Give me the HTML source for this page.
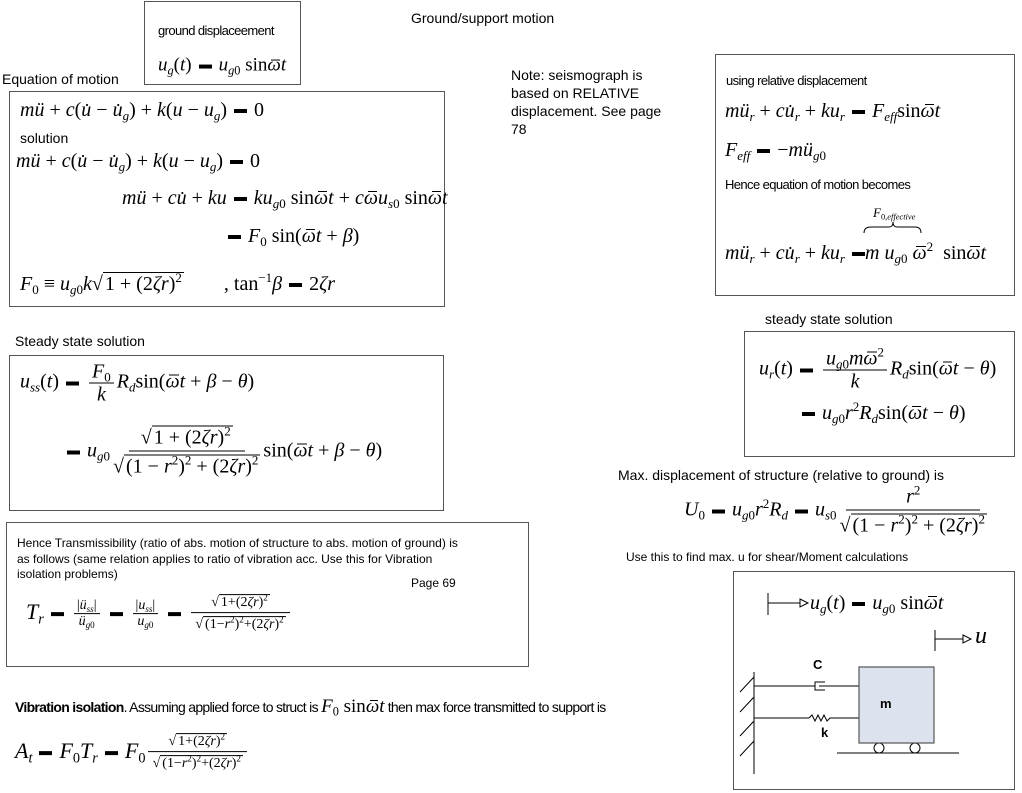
<!DOCTYPE html>
<html><head><meta charset="utf-8"><style>
body{margin:0;width:1022px;height:793px;background:#fff;position:relative;overflow:hidden;font-family:"Liberation Sans",sans-serif;color:#000}
.t{position:absolute;white-space:nowrap;font-size:14px}
.b{position:absolute;border:1.5px solid #555;box-sizing:border-box}
.m{position:absolute;white-space:nowrap;font:20px "Liberation Serif",serif;transform:translateY(-50%);line-height:1.1}
i{font-style:italic}
sub{font-size:0.65em;vertical-align:-0.3em;line-height:0}
sup{font-size:0.65em;vertical-align:0.6em;line-height:0}
.e{display:inline-block;width:13px;height:4px;background:#000;margin:0 7px;vertical-align:middle}
.fr{display:inline-flex;flex-direction:column;align-items:center;margin:0 3px;vertical-align:middle}
.fr>span{display:block;white-space:nowrap}
.fr>span:first-child{border-bottom:1px solid #000;padding:0 3px}
.sq{border-top:1px solid #000;padding:0 2px}
.w{display:inline-block;position:relative;font-style:italic}
.w::before{content:"";position:absolute;left:0.2em;right:0.05em;top:0.22em;border-top:1.5px solid #000}
</style></head><body>

<div class="t" style="left:411px;top:10px">Ground/support motion</div>
<div class="b" style="left:144px;top:1px;width:157px;height:84px"></div>
<div class="t" style="left:158px;top:23px;font-size:13px;letter-spacing:-0.6px">ground displaceement</div>
<div class="m" style="left:158px;top:66px;font-size:19px"><i>u</i><sub><i>g</i></sub>(<i>t</i>)<span class="e"></span><i>u</i><sub><i>g</i>0</sub>&nbsp;sin<i class="w">ω</i><i>t</i></div>

<div class="t" style="left:2px;top:71px">Equation of motion</div>
<div class="b" style="left:9px;top:91px;width:436px;height:216px"></div>
<div class="m" style="left:20px;top:110px"><i>mü</i>&nbsp;+&nbsp;<i>c</i>(<i>u̇</i>&nbsp;−&nbsp;<i>u̇</i><sub><i>g</i></sub>)&nbsp;+&nbsp;<i>k</i>(<i>u</i>&nbsp;−&nbsp;<i>u</i><sub><i>g</i></sub>)<span class="e"></span>0</div>
<div class="t" style="left:20px;top:130px">solution</div>
<div class="m" style="left:16px;top:161px"><i>mü</i>&nbsp;+&nbsp;<i>c</i>(<i>u̇</i>&nbsp;−&nbsp;<i>u̇</i><sub><i>g</i></sub>)&nbsp;+&nbsp;<i>k</i>(<i>u</i>&nbsp;−&nbsp;<i>u</i><sub><i>g</i></sub>)<span class="e"></span>0</div>
<div class="m" style="left:122px;top:198px"><i>mü</i>&nbsp;+&nbsp;<i>cu̇</i>&nbsp;+&nbsp;<i>ku</i><span class="e"></span><i>ku</i><sub><i>g</i>0</sub>&nbsp;sin<i class="w">ω</i><i>t</i>&nbsp;+&nbsp;<i>c</i><i class="w">ω</i><i>u</i><sub><i>s</i>0</sub>&nbsp;sin<i class="w">ω</i><i>t</i></div>
<div class="m" style="left:221px;top:236px"><span class="e"></span><i>F</i><sub>0</sub>&nbsp;sin(<i class="w">ω</i><i>t</i>&nbsp;+&nbsp;<i>β</i>)</div>
<div class="m" style="left:20px;top:284px"><i>F</i><sub>0</sub>&nbsp;≡&nbsp;<i>u</i><sub><i>g</i>0</sub><i>k</i>√<span class="sq">1&nbsp;+&nbsp;(2<i>ζr</i>)<sup>2</sup></span><span style="width:40px;display:inline-block"></span>,&nbsp;tan<sup>−1</sup><i>β</i><span class="e"></span>2<i>ζr</i></div>

<div class="t" style="left:15px;top:333px">Steady state solution</div>
<div class="b" style="left:9px;top:355px;width:435px;height:156px"></div>
<div class="m" style="left:20px;top:383px"><i>u</i><sub><i>ss</i></sub>(<i>t</i>)<span class="e"></span><span class="fr"><span><i>F</i><sub>0</sub></span><span><i>k</i></span></span><i>R</i><sub><i>d</i></sub>sin(<i class="w">ω</i><i>t</i>&nbsp;+&nbsp;<i>β</i>&nbsp;−&nbsp;<i>θ</i>)</div>
<div class="m" style="left:60px;top:452px"><span class="e"></span><i>u</i><sub><i>g</i>0</sub><span class="fr"><span style="padding:0 12px 2px">√<span class="sq">1&nbsp;+&nbsp;(2<i>ζr</i>)<sup>2</sup></span></span><span style="padding-top:4px">√<span class="sq">(1&nbsp;−&nbsp;<i>r</i><sup>2</sup>)<sup>2</sup>&nbsp;+&nbsp;(2<i>ζr</i>)<sup>2</sup></span></span></span>sin(<i class="w">ω</i><i>t</i>&nbsp;+&nbsp;<i>β</i>&nbsp;−&nbsp;<i>θ</i>)</div>

<div class="b" style="left:6px;top:522px;width:523px;height:145px"></div>
<div class="t" style="left:17px;top:536px;font-size:12px;line-height:15.5px">Hence Transmissibility (ratio of abs. motion of structure to abs. motion of ground) is<br>as follows (same relation applies to ratio of vibration acc. Use this for Vibration<br>isolation problems)</div>
<div class="t" style="left:411px;top:576px;font-size:12px">Page 69</div>
<div class="m" style="left:26px;top:614px;font-size:22px"><i>T</i><sub><i>r</i></sub><span class="e"></span><span class="fr" style="font-size:14px"><span>|<i>ü</i><sub><i>ss</i></sub>|</span><span><i>ü</i><sub><i>g</i>0</sub></span></span><span class="e"></span><span class="fr" style="font-size:14px"><span>|<i>u</i><sub><i>ss</i></sub>|</span><span><i>u</i><sub><i>g</i>0</sub></span></span><span class="e"></span><span class="fr" style="font-size:14px"><span style="padding:0 20px 2px">√<span class="sq">1+(2<i>ζr</i>)<sup>2</sup></span></span><span style="padding-top:4px">√<span class="sq">(1−<i>r</i><sup>2</sup>)<sup>2</sup>+(2<i>ζr</i>)<sup>2</sup></span></span></span></div>

<div class="t" style="left:15px;top:696px;font-size:14px;letter-spacing:-0.7px"><b>Vibration isolation</b>. Assuming applied force to struct is <span style="font:19px 'Liberation Serif',serif;letter-spacing:0"><i>F</i><sub>0</sub> sin<i class="w">ω</i><i>t</i></span> then max force transmitted to support is</div>
<div class="m" style="left:15px;top:753px;font-size:22px"><i>A</i><sub><i>t</i></sub><span class="e"></span><i>F</i><sub>0</sub><i>T</i><sub><i>r</i></sub><span class="e"></span><i>F</i><sub>0</sub><span class="fr" style="font-size:14px"><span style="padding:0 20px 2px">√<span class="sq">1+(2<i>ζr</i>)<sup>2</sup></span></span><span style="padding-top:4px">√<span class="sq">(1−<i>r</i><sup>2</sup>)<sup>2</sup>+(2<i>ζr</i>)<sup>2</sup></span></span></span></div>

<div class="t" style="left:511px;top:66px;line-height:18px">Note: seismograph is<br>based on RELATIVE<br>displacement. See page<br>78</div>

<div class="b" style="left:715px;top:54px;width:300px;height:242px"></div>
<div class="t" style="left:726px;top:73px;font-size:13px;letter-spacing:-0.6px">using relative displacement</div>
<div class="m" style="left:725px;top:111px"><i>mü</i><sub><i>r</i></sub>&nbsp;+&nbsp;<i>cu̇</i><sub><i>r</i></sub>&nbsp;+&nbsp;<i>ku</i><sub><i>r</i></sub><span class="e"></span><i>F</i><sub><i>eff</i></sub>sin<i class="w">ω</i><i>t</i></div>
<div class="m" style="left:725px;top:150px"><i>F</i><sub><i>eff</i></sub><span class="e"></span>−<i>mü</i><sub><i>g</i>0</sub></div>
<div class="t" style="left:725px;top:177px;font-size:13px;letter-spacing:-0.6px">Hence equation of motion becomes</div>
<div class="m" style="left:873px;top:213px;font-size:13px"><i>F</i><sub>0,<i>effective</i></sub></div>
<svg style="position:absolute;left:863px;top:222px" width="60" height="12"><path d="M1,11 Q1,5 8,5 L26,5 Q30,5 30,0 Q30,5 34,5 L52,5 Q58,5 58,11" fill="none" stroke="#000" stroke-width="1"/></svg>
<div class="m" style="left:725px;top:253px"><i>mü</i><sub><i>r</i></sub>&nbsp;+&nbsp;<i>cu̇</i><sub><i>r</i></sub>&nbsp;+&nbsp;<i>ku</i><sub><i>r</i></sub><span class="e" style="margin-right:0"></span><i>m</i>&nbsp;<i>u</i><sub><i>g</i>0</sub>&nbsp;<i class="w">ω</i><sup>2</sup>&nbsp;&nbsp;sin<i class="w">ω</i><i>t</i></div>

<div class="t" style="left:765px;top:311px">steady state solution</div>
<div class="b" style="left:744px;top:331px;width:271px;height:126px"></div>
<div class="m" style="left:759px;top:370px"><i>u</i><sub><i>r</i></sub>(<i>t</i>)<span class="e"></span><span class="fr"><span><i>u</i><sub><i>g</i>0</sub><i>m</i><i class="w">ω</i><sup>2</sup></span><span><i>k</i></span></span><i>R</i><sub><i>d</i></sub>sin(<i class="w">ω</i><i>t</i>&nbsp;−&nbsp;<i>θ</i>)</div>
<div class="m" style="left:795px;top:413px"><span class="e"></span><i>u</i><sub><i>g</i>0</sub><i>r</i><sup>2</sup><i>R</i><sub><i>d</i></sub>sin(<i class="w">ω</i><i>t</i>&nbsp;−&nbsp;<i>θ</i>)</div>

<div class="t" style="left:618px;top:467px">Max. displacement of structure (relative to ground) is</div>
<div class="m" style="left:684px;top:511px"><i>U</i><sub>0</sub><span class="e"></span><i>u</i><sub><i>g</i>0</sub><i>r</i><sup>2</sup><i>R</i><sub><i>d</i></sub><span class="e"></span><i>u</i><sub><i>s</i>0</sub><span class="fr"><span style="padding:0 60px 2px"><i>r</i><sup>2</sup></span><span style="padding-top:4px">√<span class="sq">(1&nbsp;−&nbsp;<i>r</i><sup>2</sup>)<sup>2</sup>&nbsp;+&nbsp;(2<i>ζr</i>)<sup>2</sup></span></span></span></div>
<div class="t" style="left:626px;top:550px;font-size:12px">Use this to find max. u for shear/Moment calculations</div>

<div class="b" style="left:733px;top:571px;width:282px;height:219px"></div>
<svg style="position:absolute;left:733px;top:571px" width="282" height="219">
<g stroke="#000" fill="none" stroke-width="1">
<line x1="35" y1="22" x2="35" y2="44"/><line x1="35" y1="32" x2="67" y2="32"/><path d="M67,28 L75,32 L67,36 Z"/>
<line x1="202" y1="59" x2="202" y2="80"/><line x1="202" y1="68" x2="230" y2="68"/><path d="M230,64 L238,68 L230,72 Z"/>
<line x1="21" y1="101" x2="21" y2="203"/>
<line x1="21" y1="106" x2="7" y2="121"/><line x1="21" y1="126" x2="7" y2="141"/><line x1="21" y1="150" x2="7" y2="165"/><line x1="21" y1="170" x2="7" y2="185"/>
<line x1="21" y1="115" x2="82" y2="115"/><path d="M92,111 L82,111 L82,119 L92,119"/><line x1="86" y1="115" x2="126" y2="115"/>
<line x1="21" y1="147" x2="76" y2="147"/><polyline points="76,147 79,144 82,150 85,144 88,150 91,144 94,150 97,147 126,147"/>
<line x1="104" y1="182" x2="226" y2="182"/>
<circle cx="146" cy="177" r="5"/><circle cx="182" cy="177" r="5"/>
</g>
<rect x="126" y="96" width="75" height="76" fill="#dde3ee" stroke="#555" stroke-width="1.2"/>
</svg>
<div class="m" style="left:810px;top:603px;font-size:20px"><i>u</i><sub><i>g</i></sub>(<i>t</i>)<span class="e"></span><i>u</i><sub><i>g</i>0</sub>&nbsp;sin<i class="w">ω</i><i>t</i></div>
<div class="m" style="left:975px;top:636px;font-size:24px"><i>u</i></div>
<div class="t" style="left:813px;top:657px;font-weight:bold;font-size:13px">C</div>
<div class="t" style="left:880px;top:696px;font-weight:bold;font-size:13px">m</div>
<div class="t" style="left:821px;top:725px;font-weight:bold;font-size:13px">k</div>
</body></html>
